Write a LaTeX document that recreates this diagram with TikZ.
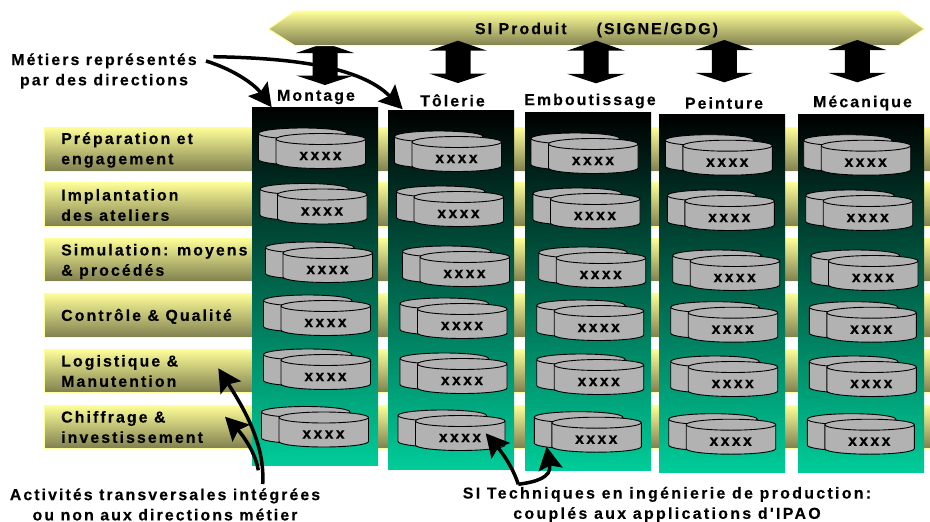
\documentclass[tikz,border=0pt]{standalone}
\usepackage{fontspec}
\setmainfont{Liberation Sans}
\newfontfamily\labfont[LetterSpace=13,BoldFeatures={FakeBold=0.25}]{Liberation Sans}
\newfontfamily\labwide[LetterSpace=14.6,BoldFeatures={FakeBold=0.25}]{Liberation Sans}
\usetikzlibrary{arrows.meta}
\definecolor{paleyel}{HTML}{FFFF99}
\definecolor{darkol}{HTML}{808050}
\definecolor{sea}{HTML}{00CC99}
\definecolor{cylgray}{HTML}{B2B2B2}
\tikzset{
  lab/.style={font=\labfont\bfseries\fontsize{15.9}{20.3}\selectfont,inner sep=0pt,text=black},
  barlab/.style={lab,align=left,anchor=west},
  midlab/.style={lab,align=center},
  xlab/.style={font=\labwide\bfseries\fontsize{15.9}{20}\selectfont,inner sep=0pt},
  bandbar/.style={top color=paleyel,bottom color=darkol,draw=paleyel,line width=1pt},
  colbox/.style={top color=black,bottom color=sea,draw=none},
  cylshape/.style={fill=cylgray,draw=black,line width=0.9pt},
  dblarrow/.style={fill=black,draw=none},
  callout/.style={draw=black,line width=3.5pt,-{Stealth[length=23pt,width=24pt,inset=4pt]}},
}
\newcommand{\cylpart}[4]{%
  \path[cylshape] (#1,#2) -- (#1,#2+#4)
   .. controls (#1,#2+#4+3) and ({#1+.22*#3},#2+#4+5.5) .. ({#1+.5*#3},#2+#4+5.5)
   .. controls ({#1+.78*#3},#2+#4+5.5) and (#1+#3,#2+#4+3) .. (#1+#3,#2+#4)
   -- (#1+#3,#2)
   .. controls (#1+#3,#2-3) and ({#1+.78*#3},#2-5.5) .. ({#1+.5*#3},#2-5.5)
   .. controls ({#1+.22*#3},#2-5.5) and (#1,#2-3) .. (#1,#2) -- cycle;
  \path[draw=black,line width=0.9pt] (#1,#2)
   .. controls (#1,#2+3) and ({#1+.22*#3},#2+5.5) .. ({#1+.5*#3},#2+5.5)
   .. controls ({#1+.78*#3},#2+5.5) and (#1+#3,#2+3) .. (#1+#3,#2);
}
\newcommand{\dbl}[3]{% x, top tip, bottom tip
  \path[dblarrow] (#1,#2) -- (#1+29,#2+10) -- (#1+12.5,#2+10) -- (#1+12.5,#3-9.5) -- (#1+29,#3-9.5)
   -- (#1,#3) -- (#1-29,#3-9.5) -- (#1-12.5,#3-9.5) -- (#1-12.5,#2+10) -- (#1-29,#2+10) -- cycle;
}
\begin{document}
\begin{tikzpicture}[x=1pt,y=-1pt]
\useasboundingbox (0,0) rectangle (930,522);
% bands
\foreach \a/\b in {127/171,182/226,238/281,293/337,349/392,405/448}
  \path[bandbar] (44,\a) rectangle (931,\b);
% double arrows
\dbl{325}{43}{85}
\path[bandbar] (268.5,29) -- (295,11) -- (898.3,11) -- (924.3,29) -- (898.3,45.7) -- (295,45.7) -- cycle;
\dbl{458}{40.7}{83}
\dbl{596}{40.7}{83.3}
\dbl{724.3}{40}{82.3}
\dbl{857.3}{40}{82.3}
\node[lab] (siprod) at (596.5,30) {SI Produit\hspace{30pt}(SIGNE/GDG)};
% columns
\foreach \a/\t/\b/\e in {252/107/378/465,388/110/514/469,525/112/651/470,659/114/785/472,798/114/924/472}
  \path[colbox] (\a,\t) rectangle (\b,\e);
% cylinders
\foreach \n/\x/\y in {
 a1/258.5/128,a2/260/183.5,a3/265.5/242,a4/263.5/295,a5/263.5/349,a6/261.5/406.5,
 b1/394.5/131,b2/396.5/186,b3/402.5/246,b4/400/298,b5/400/353,b6/398/410,
 c1/531/133,c2/533/188,c3/538.7/247,c4/536.7/300,c5/536.7/354,c6/534.3/411.7,
 d1/665.3/134.7,d2/667.3/190,d3/672.7/250,d4/670.7/301.7,d5/670.7/356,d6/668.7/413.7,
 e1/803.7/134.7,e2/805.7/190,e3/811/250,e4/809.3/301.7,e5/809.3/356,e6/807.3/413.7}{
  \cylpart{\x}{\y+5.5}{88.5}{26}
  \cylpart{\x+17.5}{\y+11}{89.5}{24}
  \node[xlab] (cyl\n) at (\x+62,\y+28) {xxxx};
}
% column titles
\node[lab] (ttl1) at (316,97) {Montage};
\node[lab] (ttl2) at (452.5,100.5) {Tôlerie};
\node[lab] (ttl3) at (590,101) {Emboutissage};
\node[lab] (ttl4) at (724,103) {Peinture};
\node[lab] (ttl5) at (862.5,103) {Mécanique};
% band labels
\node[barlab] (r1) at (61,150) {Préparation et\\engagement};
\node[barlab] (r2) at (61,205) {Implantation\\des ateliers};
\node[barlab] (r3) at (61,261.5) {Simulation: moyens\\\& procédés};
\node[barlab] (r4) at (61,316.5) {Contrôle \& Qualité};
\node[barlab] (r5) at (61,371) {Logistique \&\\Manutention};
\node[barlab] (r6) at (61,427) {Chiffrage \&\\investissement};
% captions
\node[midlab] (capA) at (104,71) {Métiers représentés\\par des directions};
\node[midlab] (capB) at (165,504.5) {Activités transversales intégrées\\ou non aux directions métier};
\node[midlab,font=\labwide\bfseries\fontsize{15.9}{20.3}\selectfont] (capC) at (667,504.5) {SI Techniques en ingénierie de production:\\couplés aux applications d'IPAO};
% callouts
\coordinate (sA1) at (206,61);
\coordinate (sA2) at (213.3,56.7);
\coordinate (tA1) at (271.7,107.3);
\coordinate (tA2) at (402.7,109.3);
\draw[callout] (sA1) .. controls (235,70) and (255,85) .. (tA1);
\draw[callout] (sA2) .. controls (290,58) and (360,66) .. (tA2);
\coordinate (sB1) at (262.7,484);
\coordinate (sB2) at (258.3,470.3);
\coordinate (tB1) at (218.3,368.3);
\coordinate (tB2) at (225,416.7);
\draw[callout] (sB1) .. controls (265,445) and (245,410) .. (tB1);
\draw[callout] (sB2) .. controls (255,450) and (240,432) .. (tB2);
\coordinate (sC) at (518.3,484.3);
\coordinate (tC1) at (485.7,433.3);
\coordinate (tC2) at (546.7,446.7);
\draw[callout] (sC) .. controls (512,465) and (500,450) .. (tC1);
\draw[callout] (sC) .. controls (535,482) and (552,478) .. (tC2);
\end{tikzpicture}
\end{document}
